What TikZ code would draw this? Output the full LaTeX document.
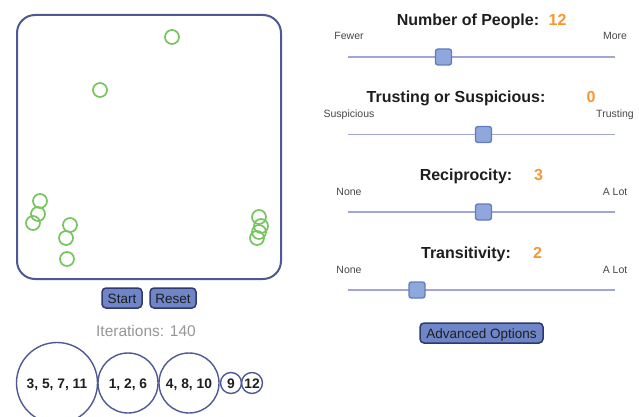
\documentclass[tikz,border=0pt]{standalone}
\usepackage{fontspec}
\setmainfont{Liberation Sans}
\definecolor{custcol_frame}{RGB}{78, 88, 146}
\definecolor{custcol_green}{RGB}{120, 196, 96}
\definecolor{custcol_track}{RGB}{160, 166, 214}
\definecolor{custcol_knob}{RGB}{143, 167, 218}
\definecolor{custcol_knobedge}{RGB}{98, 124, 190}
\definecolor{custcol_btn}{RGB}{110, 133, 200}
\definecolor{custcol_btnedge}{RGB}{48, 56, 112}
\definecolor{custcol_orange}{RGB}{250, 150, 50}
\definecolor{custcol_grey}{RGB}{150, 150, 150}
\definecolor{custcol_text}{RGB}{30, 30, 30}
\definecolor{custcol_small}{RGB}{70, 70, 70}
\tikzset{
	person/.style={circle, draw=custcol_green, line width=1.7pt, fill=none, minimum size=14pt, inner sep=0},
	group/.style={circle, draw=custcol_frame, line width=1.4pt, inner sep=0, text height=10pt, text depth=0pt, font=\fontsize{13.8pt}{13.8pt}\selectfont\bfseries, text=custcol_text},
	btn/.style={rectangle, rounded corners=4pt, draw=custcol_btnedge, line width=1.5pt, fill=custcol_btn, inner sep=0, minimum height=20pt, text height=10pt, text depth=0pt, text=custcol_text, font=\fontsize{13.5pt}{13.5pt}\selectfont},
	title/.style={inner sep=0, anchor=base, text=custcol_text, font=\fontsize{16pt}{16pt}\selectfont\bfseries},
	value/.style={inner sep=0, anchor=base, text=custcol_orange, font=\fontsize{16pt}{16pt}\selectfont\bfseries},
	endlabel/.style={inner sep=0, anchor=base, text=custcol_small, font=\fontsize{10.5pt}{10.5pt}\selectfont},
	track/.style={draw=custcol_track, line width=1.6pt},
	knob/.style={rectangle, rounded corners=2.5pt, draw=custcol_knobedge, line width=1.4pt, fill=custcol_knob, minimum size=16pt, inner sep=0},
}
\begin{document}
\begin{tikzpicture}[x=1pt,y=-1pt]
	\useasboundingbox (0,0) rectangle (639,417);
	% world
	\node[draw=custcol_frame, line width=2pt, rounded corners=18pt, minimum width=264pt, minimum height=264pt, inner sep=0] (world) at (149,147) {};
	\node[person] (p1) at (172,37) {};
	\node[person] (p2) at (100,90) {};
	\node[person] (p3) at (40,201) {};
	\node[person] (p4) at (38,214) {};
	\node[person] (p5) at (33,223) {};
	\node[person] (p6) at (70,225) {};
	\node[person] (p7) at (66,238) {};
	\node[person] (p8) at (67,259) {};
	\node[person] (p9) at (259,217) {};
	\node[person] (p10) at (261,226) {};
	\node[person] (p11) at (259,232) {};
	\node[person] (p12) at (257,238) {};
	% buttons
	\node[btn, minimum width=40pt] (start) at (122,298) {Start};
	\node[btn, minimum width=46pt] (reset) at (173,298) {Reset};
	\node[inner sep=0, anchor=base, text=custcol_grey, font=\fontsize{15.5pt}{15.5pt}\selectfont] (iter) at (146,336) {Iterations: 140};
	% groups
	\node[group, minimum size=81pt] (g1) at (57,383) {3, 5, 7, 11};
	\node[group, minimum size=60pt] (g2) at (128,383) {1, 2, 6};
	\node[group, minimum size=60pt] (g3) at (189,383) {4, 8, 10};
	\node[group, minimum size=21pt] (g4) at (231,383) {9};
	\node[group, minimum size=21pt] (g5) at (252,383) {12};
	% slider 1
	\node[title] (t1) at (468,25.5) {Number of People:};
	\node[value] (v1) at (557.5,25.5) {12};
	\node[endlabel] (a1) at (349,40) {Fewer};
	\node[endlabel] (b1) at (615,40) {More};
	\coordinate (l1) at (348,57);
	\coordinate (r1) at (615,57);
	\draw[track] (l1) -- (r1);
	\node[knob] (k1) at (443.5,57) {};
	% slider 2
	\node[title] (t2) at (456,102.5) {Trusting or Suspicious:};
	\node[value] (v2) at (591,102.5) {0};
	\node[endlabel] (a2) at (349,117.5) {Suspicious};
	\node[endlabel] (b2) at (615,117.5) {Trusting};
	\coordinate (l2) at (348,134.5);
	\coordinate (r2) at (615,134.5);
	\draw[track] (l2) -- (r2);
	\node[knob] (k2) at (483.5,134.5) {};
	% slider 3
	\node[title] (t3) at (466,180.5) {Reciprocity:};
	\node[value] (v3) at (538.5,180.5) {3};
	\node[endlabel] (a3) at (349,195) {None};
	\node[endlabel] (b3) at (615,195) {A Lot};
	\coordinate (l3) at (348,212);
	\coordinate (r3) at (615,212);
	\draw[track] (l3) -- (r3);
	\node[knob] (k3) at (483.5,212) {};
	% slider 4
	\node[title] (t4) at (466,258) {Transitivity:};
	\node[value] (v4) at (537.5,258) {2};
	\node[endlabel] (a4) at (349,273) {None};
	\node[endlabel] (b4) at (615,273) {A Lot};
	\coordinate (l4) at (348,290);
	\coordinate (r4) at (615,290);
	\draw[track] (l4) -- (r4);
	\node[knob] (k4) at (417,290) {};
	% options
	\node[btn, minimum width=123pt, minimum height=20pt] (adv) at (481.5,333) {Advanced Options};
\end{tikzpicture}
\end{document}
